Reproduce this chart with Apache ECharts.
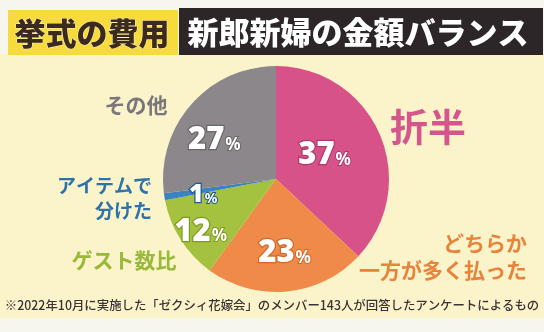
<!DOCTYPE html>
<html><head><meta charset="utf-8">
<script src="https://cdn.jsdelivr.net/npm/echarts@6/dist/echarts.min.js"></script>
<style>html,body{margin:0;padding:0;background:#f6f5ee;}#c{width:544px;height:332px;}</style>
</head><body><div id="c"></div>
<script>
const categories = ['折半', 'どちらか\n一方が多く払った', 'ゲスト数比', 'アイテムで\n分けた', 'その他'];
const values = [37, 23, 12, 1, 27];
const colors = ['#d8528a', '#f08a48', '#a4c23f', '#3a82c4', '#8b878a'];
const labelColors = ['#d4568c', '#e8843a', '#9ab83a', '#2f72aa', '#7a7679'];
const outlineColors = ['#b03a6c', '#d06a28', '#7e9a22', '#1e5a90', '#6a6669'];
const pctSizes = [31, 31, 31, 25, 31];
const titleLeft = '挙式の費用';
const titleRight = '新郎新婦の金額バランス';
const footnote = '※2022年10月に実施した「ゼクシィ花嫁会」のメンバー143人が回答したアンケートによるもの';

const pctOffsets = [[-6, 0], [3, 15], [-25, 21], [-14, 7], [-17, 1]];
const namePos = [
  {x: 428, y: 127, align: 'center', size: 38},
  {x: 527, y: 257, align: 'right', size: 21},
  {x: 124, y: 260, align: 'center', size: 21},
  {x: 152, y: 198, align: 'right', size: 19},
  {x: 136, y: 105, align: 'center', size: 21}
];

const chart = echarts.init(document.getElementById('c'), null, {renderer: 'canvas'});
const ff = '"Noto Sans CJK JP", "Noto Sans", sans-serif';

const graphics = [
  {type: 'rect', shape: {x: 0, y: 54, width: 544, height: 264}, style: {fill: '#fbf4cb'}, z: 0},
  {type: 'rect', shape: {x: 8, y: 10, width: 170, height: 45}, style: {fill: '#f7da3c'}, z: 1},
  {type: 'rect', shape: {x: 179, y: 8, width: 364, height: 47}, style: {fill: '#2c2628'}, z: 1},
  {type: 'text', x: 92, y: 33, style: {text: titleLeft, font: '900 31px ' + ff, fill: '#3a2a1f', stroke: '#fff3b0', lineWidth: 1, textAlign: 'center', textVerticalAlign: 'middle'}, z: 2},
  {type: 'text', x: 358, y: 32, style: {text: titleRight, font: '900 31px ' + ff, fill: '#ffffff', textAlign: 'center', textVerticalAlign: 'middle'}, z: 2},
  {type: 'text', x: 272, y: 305, style: {text: footnote, font: '500 12.4px ' + ff, fill: '#3a3434', textAlign: 'center', textVerticalAlign: 'middle'}, z: 2}
];
categories.forEach((c, i) => {
  const p = namePos[i];
  graphics.push({type: 'text', x: p.x, y: p.y, style: {text: c, font: '700 ' + p.size + 'px ' + ff, fill: labelColors[i], textAlign: p.align, textVerticalAlign: 'middle', lineHeight: p.size + 6}, z: 2});
});

chart.setOption({
  animation: false,
  graphic: graphics,
  series: [{
    type: 'pie',
    center: [276, 179],
    radius: [0, 113],
    startAngle: 90,
    clockwise: true,
    z: 3,
    data: values.map((v, i) => ({value: v, name: categories[i], itemStyle: {color: colors[i]},
      label: {rich: {
        n: {fontSize: pctSizes[i], fontWeight: 900, fontFamily: '"Noto Sans", sans-serif', color: '#fff', textBorderWidth: 2.5, textBorderColor: outlineColors[i]},
        p: {fontSize: Math.round(pctSizes[i] * 0.55), fontWeight: 700, fontFamily: '"Noto Sans", sans-serif', color: '#fff', textBorderWidth: 2, textBorderColor: outlineColors[i], padding: [Math.round(pctSizes[i] * 0.28), 0, 0, 1]}
      }}})),
    itemStyle: {borderWidth: 0},
    label: {
      position: 'inside',
      formatter: p => '{n|' + p.value + '}{p|%}'
    },
    labelLine: {show: false},
    labelLayout: p => ({dx: pctOffsets[p.dataIndex][0], dy: pctOffsets[p.dataIndex][1]}),
    emphasis: {disabled: true}
  }]
});
</script></body></html>
